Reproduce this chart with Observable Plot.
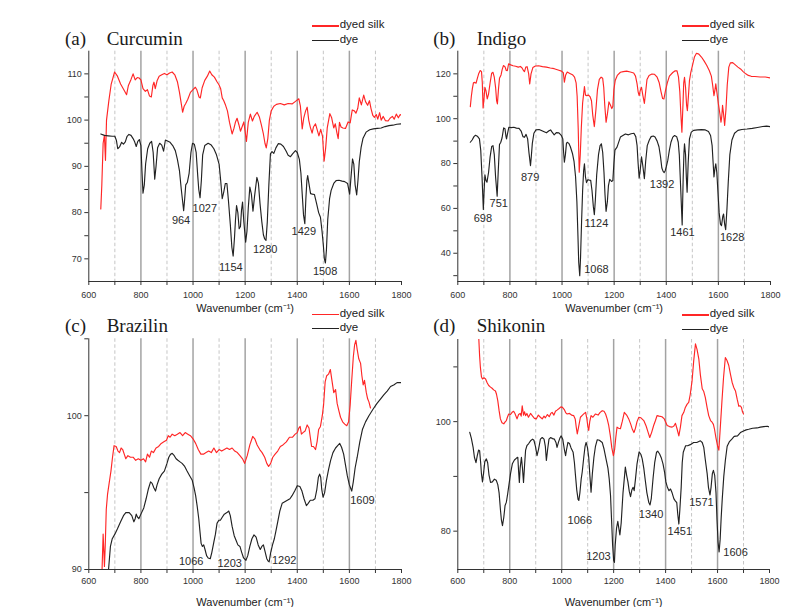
<!DOCTYPE html>
<html>
<head>
<meta charset="utf-8">
<script src="https://cdn.jsdelivr.net/npm/d3@7"></script>
<script src="https://cdn.jsdelivr.net/npm/@observablehq/plot@0.6"></script>
<style>
  body { margin: 0; background: #fff; }
  #fig { position: relative; width: 792px; height: 607px; overflow: hidden; background: #fff;
         font-family: "Liberation Sans", Arial, sans-serif; }
  .panel { position: absolute; }
  .title { position: absolute; font-family: "Liberation Serif", "Times New Roman", serif;
           font-size: 19px; line-height: 19px; color: #1a1a1a; white-space: nowrap; }
  .leg-line { position: absolute; width: 27px; height: 1.3px; }
  .leg-text { position: absolute; font-size: 11.5px; line-height: 11.5px; color: #1a1a1a; white-space: nowrap; }
</style>
</head>
<body>
<div id="fig"></div>
<script>
// ---- FTIR spectra: [wavenumber (cm-1), transmittance] ----
const curcuminSilk = [
  [646, 80.8], [650, 86], [655, 95], [660, 96.7], [664, 91.3], [668, 100], [677, 104.2], [686, 107.8],
  [699, 110.4], [710, 109.5], [722, 107.8], [735, 106.5], [745, 105.5], [752, 107.5], [762, 108.8],
  [770, 110], [778, 108.7], [786, 109.2], [793, 109.1], [800, 108.7], [808, 106.8], [817, 106.2],
  [825, 106.6], [833, 105.2], [840, 105], [846, 107.5], [850, 108.2], [855, 106.8], [862, 108.5],
  [870, 109.5], [880, 109.8], [890, 110.1], [900, 109.8], [910, 110.2], [920, 110.4], [930, 109.8],
  [940, 108.3], [948, 106], [955, 103.5], [960, 101.7], [966, 103], [972, 103.6], [980, 104.5],
  [990, 106], [1000, 106.6], [1009, 107.1], [1015, 106.5], [1023, 105], [1028, 104.8], [1035, 107],
  [1045, 108.6], [1055, 109.5], [1064, 110.6], [1072, 109.8], [1082, 109.3], [1092, 108.3],
  [1100, 107.6], [1106, 106.8], [1112, 104.8], [1118, 104.2], [1125, 103.2], [1132, 102], [1140, 99.5],
  [1150, 97], [1157, 98.2], [1163, 99.6], [1169, 100.4], [1176, 99], [1182, 97.6], [1188, 98.5],
  [1195, 99.6], [1200, 97.5], [1205, 95.4], [1212, 99.5], [1220, 101.3], [1228, 99.8], [1235, 100.8],
  [1246, 101.7], [1255, 100.6], [1262, 99], [1270, 97], [1276, 95], [1281, 94], [1287, 96],
  [1293, 100], [1300, 102], [1310, 103], [1320, 103.4], [1335, 103.6], [1350, 103.3], [1365, 103.6],
  [1380, 103.5], [1392, 104], [1406, 104.6], [1412, 103], [1419, 98.1], [1425, 100.5], [1432, 102],
  [1438, 102.8], [1444, 100], [1450, 98.5], [1457, 97.2], [1462, 98.5], [1470, 99.2], [1476, 98],
  [1483, 96.6], [1490, 98], [1497, 96.5], [1503, 91.1], [1509, 94], [1515, 98.3], [1525, 101.4],
  [1532, 100.5], [1540, 98.3], [1546, 99.2], [1552, 97.3], [1557, 96], [1562, 99.5], [1568, 98.5],
  [1575, 98.3], [1585, 98.2], [1595, 99.6], [1603, 99.4], [1611, 102.2], [1619, 102], [1625, 101.5],
  [1632, 102.5], [1638, 104.8], [1646, 103.3], [1655, 105.4], [1662, 104], [1670, 103.2],
  [1677, 104.2], [1683, 102.5], [1690, 101], [1696, 100.6], [1703, 101.2], [1709, 100.2],
  [1716, 101.6], [1722, 100], [1730, 100.8], [1738, 99.9], [1748, 99.8], [1756, 100.4], [1765, 100.8],
  [1772, 100.2], [1780, 101.3], [1788, 100.5], [1795, 101.2], [1800, 101]
];
const curcuminDye = [
  [646, 97], [660, 96.7], [675, 96.6], [690, 96.5], [700, 96.5], [706, 95.6], [711, 93.8], [718, 94.2],
  [726, 95.2], [733, 94.8], [740, 95.3], [747, 96.5], [754, 96.9], [762, 96.7], [770, 96], [776, 95.3],
  [782, 94.3], [788, 95.4], [794, 95.8], [800, 94.5], [804, 89], [808, 84.2], [813, 86], [818, 90.5],
  [826, 93.8], [834, 95], [841, 95.4], [847, 93], [853, 87.2], [858, 90], [864, 94], [872, 95],
  [880, 94.6], [887, 93.3], [894, 95.7], [902, 95.5], [912, 95.2], [922, 94.5], [932, 93.4],
  [940, 91.5], [948, 89], [955, 85], [964, 80.4], [968, 83], [972, 86], [978, 86.5], [985, 88.5],
  [992, 93], [998, 95], [1005, 94.8], [1012, 93], [1018, 88], [1022, 85], [1027, 83.2], [1032, 87],
  [1037, 92.5], [1045, 94.5], [1058, 95], [1070, 94.6], [1080, 93.8], [1090, 92.5], [1100, 90.5],
  [1106, 87], [1112, 83], [1118, 84.5], [1124, 86.3], [1130, 86.3], [1136, 82.5], [1143, 77.5],
  [1149, 72.5], [1154, 70.6], [1159, 74.5], [1163, 78.5], [1167, 81.5], [1172, 80], [1177, 76.5],
  [1182, 77], [1186, 80.5], [1190, 82.3], [1195, 78], [1202, 73.6], [1207, 76], [1212, 81],
  [1218, 85.5], [1224, 84], [1230, 80.3], [1236, 83.5], [1245, 87.6], [1251, 86.3], [1257, 82],
  [1264, 78], [1270, 75.2], [1275, 74.3], [1280, 74], [1285, 78], [1291, 86], [1297, 92.7],
  [1303, 93.2], [1310, 92.8], [1318, 94], [1327, 94.9], [1337, 94.8], [1347, 94.3], [1357, 93.3],
  [1365, 92.4], [1374, 92.1], [1382, 92.7], [1393, 93.4], [1400, 93], [1408, 91.5], [1414, 88.5],
  [1419, 84], [1424, 79.5], [1429, 77.6], [1433, 83], [1437, 87], [1440, 88], [1445, 86.2],
  [1451, 84.1], [1458, 84], [1466, 83.9], [1474, 82], [1482, 80], [1489, 79], [1495, 76],
  [1500, 73], [1504, 70], [1508, 69.1], [1512, 72], [1517, 78.5], [1524, 83], [1530, 84.8],
  [1540, 86.3], [1549, 86.9], [1560, 87], [1572, 86.8], [1582, 86.7], [1593, 86.3], [1601, 84],
  [1606, 87.5], [1612, 91.6], [1617, 90.5], [1622, 86], [1628, 83.8], [1633, 87], [1638, 91],
  [1645, 94.1], [1652, 96], [1664, 97.4], [1678, 97.9], [1692, 98.1], [1707, 98.2], [1722, 98.3],
  [1737, 98.6], [1752, 98.8], [1767, 98.9], [1782, 99.1], [1800, 99.2]
];

const indigoSilk = [
  [648, 105.4], [652, 110], [656, 113.5], [660, 116], [665, 116.2], [670, 115.8], [675, 118],
  [680, 120], [686, 121.5], [691, 121], [694, 116], [697, 104.8], [700, 108], [704, 114],
  [708, 112.5], [713, 108.8], [718, 111], [724, 116], [730, 120.3], [735, 120.7], [740, 118.5],
  [745, 114], [749, 108], [752, 106.6], [756, 113], [760, 118], [766, 119.5], [770, 121.8],
  [775, 123.7], [781, 123.2], [786, 121.5], [790, 121.4], [795, 124.5], [803, 124], [812, 123.6],
  [822, 123.4], [832, 123], [840, 123.3], [846, 122.7], [852, 121.5], [856, 121], [861, 123],
  [866, 123.2], [872, 120], [876, 115.5], [881, 120], [888, 122.8], [898, 123.5], [910, 123.6],
  [925, 123.2], [940, 123], [955, 122.6], [970, 122.3], [985, 121.7], [998, 121.2], [1005, 120.5],
  [1009, 116.3], [1014, 119.5], [1020, 120.8], [1030, 120.2], [1040, 119.6], [1048, 118.5],
  [1054, 116], [1058, 110], [1062, 96], [1066, 76.1], [1070, 84], [1074, 96], [1079, 107],
  [1086, 114.3], [1090, 110.5], [1095, 110.3], [1102, 110.5], [1108, 109.7], [1113, 108],
  [1118, 101.5], [1124, 96.5], [1130, 104], [1136, 113], [1143, 117.5], [1150, 118.5], [1156, 118],
  [1160, 114], [1164, 106], [1169, 98.4], [1174, 102], [1180, 107.5], [1186, 106], [1191, 104.5],
  [1195, 105.5], [1199, 113], [1204, 117], [1212, 119.3], [1224, 120.7], [1235, 121], [1248, 121.2],
  [1262, 120.8], [1275, 120.4], [1282, 119], [1288, 115.5], [1292, 112], [1296, 110.3],
  [1300, 112.5], [1305, 114], [1310, 110.5], [1316, 106.8], [1321, 112], [1326, 117.5], [1334, 119.3],
  [1345, 119.9], [1355, 119.8], [1365, 118.5], [1373, 116], [1380, 112], [1386, 109], [1391, 108.8],
  [1397, 112.5], [1404, 116], [1412, 119], [1425, 120.6], [1433, 121.3], [1441, 121.4], [1447, 118.5],
  [1452, 112], [1456, 102], [1460, 94], [1464, 106], [1467, 116], [1470, 118.5], [1474, 114],
  [1478, 106], [1481, 103.6], [1485, 110], [1489, 117], [1494, 120.5], [1502, 124.5], [1508, 127.5],
  [1516, 129.2], [1525, 128.8], [1535, 127.5], [1545, 125.8], [1555, 123.8], [1565, 121.5],
  [1573, 119], [1578, 115], [1583, 110.3], [1587, 113], [1590, 115.5], [1594, 112], [1600, 106.6],
  [1606, 102], [1610, 98.4], [1613, 101], [1616, 106], [1620, 102], [1624, 97], [1629, 104],
  [1634, 115], [1640, 123], [1646, 124.9], [1655, 125], [1665, 124], [1675, 123], [1685, 122.2],
  [1695, 121], [1705, 120], [1715, 119.3], [1726, 118.9], [1740, 118.8], [1760, 118.6],
  [1780, 118.6], [1800, 118.2]
];
const indigoDye = [
  [648, 89.5], [655, 90.5], [662, 92], [668, 92.6], [675, 92.2], [683, 91], [688, 86], [693, 74],
  [698, 59.5], [701, 68], [704, 75], [708, 72.5], [712, 71.7], [718, 76], [724, 83], [730, 87.6],
  [735, 88], [740, 84], [745, 74], [751, 65.4], [755, 76], [760, 88.5], [765, 89.5], [770, 91.5],
  [776, 95.9], [781, 95.5], [785, 92], [787, 91], [791, 93.5], [796, 96.2], [805, 96], [815, 96.2],
  [825, 95.8], [835, 95.7], [843, 94.5], [850, 92], [856, 91.7], [862, 93], [868, 91], [873, 85],
  [879, 79.1], [882, 83], [886, 89], [892, 93.5], [900, 95], [912, 95.2], [925, 94.5], [940, 93.7],
  [950, 94.6], [956, 95], [962, 94], [970, 92.8], [978, 93.8], [988, 93.7], [997, 92.6], [1003, 91],
  [1006, 85], [1009, 80.6], [1013, 84], [1017, 89], [1020, 89.5], [1026, 89], [1032, 87.5],
  [1040, 84.5], [1046, 81], [1052, 74], [1057, 63], [1061, 48], [1064, 36], [1068, 30], [1071, 38],
  [1075, 54], [1079, 68], [1083, 77], [1086, 79.9], [1090, 74], [1094, 71.5], [1099, 72.8],
  [1105, 72.6], [1110, 72.5], [1115, 68], [1120, 61], [1124, 57.2], [1128, 64], [1133, 75],
  [1140, 84], [1146, 88], [1151, 88.8], [1156, 85], [1161, 76], [1165, 66], [1169, 58.7],
  [1174, 63], [1178, 70], [1183, 73], [1190, 72], [1195, 72.4], [1199, 80], [1203, 86],
  [1211, 87.3], [1224, 91.8], [1243, 93.2], [1255, 92.8], [1265, 93.3], [1276, 93.5], [1283, 92],
  [1288, 88], [1292, 80], [1296, 73.5], [1300, 77], [1305, 83], [1310, 79], [1316, 73.2],
  [1321, 81], [1327, 88], [1335, 90.5], [1342, 92], [1350, 92.3], [1357, 91.8], [1365, 90],
  [1372, 87.5], [1378, 83], [1383, 78], [1388, 76.5], [1392, 76], [1396, 76.8], [1400, 78.5],
  [1406, 81.5], [1412, 86], [1418, 89.5], [1425, 91.8], [1432, 92.5], [1440, 92], [1446, 89.5],
  [1450, 84], [1455, 70], [1461, 52.6], [1465, 74], [1468, 85], [1470, 88.8], [1474, 84],
  [1477, 74], [1480, 67.2], [1484, 80], [1489, 91], [1496, 94], [1505, 94.8], [1520, 95],
  [1535, 95.1], [1550, 95], [1562, 94.3], [1570, 92.5], [1576, 88], [1580, 80], [1583, 74],
  [1587, 78], [1590, 79.9], [1594, 76], [1598, 68], [1603, 58], [1608, 53], [1612, 52.3],
  [1617, 56.5], [1620, 57.5], [1624, 53], [1628, 50.5], [1633, 60], [1638, 72], [1644, 84],
  [1652, 90.5], [1662, 93.5], [1675, 94.8], [1690, 95.2], [1710, 95.4], [1730, 95.7], [1750, 96.1],
  [1770, 96.5], [1785, 96.7], [1800, 96.4]
];

const brazilinSilk = [
  [650, 89.5], [655, 92.3], [657, 91.5], [660, 90.2], [663, 91.5], [667, 93.9], [672, 94.9],
  [678, 95.6], [685, 96.4], [691, 97.3], [697, 98.05], [705, 98], [712, 97.7], [718, 97.6],
  [724, 97.9], [730, 97.8], [736, 97.5], [742, 97.2], [750, 97.4], [760, 97.3], [770, 97.3],
  [780, 97.1], [790, 97.2], [800, 97.1], [810, 97.2], [818, 97], [825, 97.5], [833, 97.3],
  [840, 97.7], [848, 97.6], [858, 97.9], [868, 98], [878, 98.2], [888, 98.3], [898, 98.4],
  [905, 98.7], [912, 98.6], [920, 98.8], [930, 98.7], [940, 98.8], [950, 98.9], [960, 98.7],
  [970, 98.9], [980, 98.8], [990, 98.7], [1000, 98.5], [1010, 98.2], [1020, 97.8], [1030, 97.5],
  [1040, 97.5], [1050, 97.6], [1060, 97.7], [1070, 97.6], [1080, 97.9], [1090, 97.6], [1100, 97.8],
  [1110, 97.7], [1120, 97.8], [1130, 97.9], [1140, 97.8], [1150, 97.9], [1160, 97.7], [1170, 97.6],
  [1180, 97.4], [1190, 97.2], [1198, 96.9], [1208, 97.4], [1218, 98.1], [1229, 98.65], [1237, 98.5],
  [1246, 98.1], [1256, 97.8], [1265, 97.6], [1275, 97.3], [1283, 96.9], [1290, 96.7], [1298, 96.9],
  [1306, 97.3], [1315, 97.5], [1325, 97.7], [1335, 98], [1345, 98.1], [1358, 98.3], [1370, 98.6],
  [1382, 98.6], [1392, 98.8], [1400, 98.9], [1406, 99.2], [1411, 99.3], [1416, 98.8], [1422, 98.9],
  [1430, 99], [1438, 99.4], [1445, 99.2], [1450, 98.6], [1455, 98], [1462, 98], [1470, 97.8],
  [1476, 98.3], [1482, 99.1], [1489, 99.3], [1496, 100], [1501, 100.7], [1507, 102.2], [1513, 102.6],
  [1520, 102.7], [1527, 103], [1533, 102.3], [1540, 101.5], [1547, 101.7], [1553, 100.8],
  [1560, 100.3], [1566, 99.9], [1574, 99.6], [1582, 99.45], [1590, 99.35], [1597, 99.6],
  [1603, 100.7], [1609, 102.3], [1615, 103.8], [1620, 104.6], [1625, 104.9], [1630, 104.3],
  [1636, 103.7], [1643, 103.4], [1648, 102.6], [1653, 102], [1658, 102.3], [1665, 101.5],
  [1670, 101.1], [1675, 100.9], [1681, 100.5]
];
const brazilinDye = [
  [670, 89.5], [676, 90.05], [683, 91.5], [690, 92], [700, 92.3], [710, 92.65], [722, 93.1],
  [733, 93.5], [742, 93.7], [755, 93.7], [765, 93.5], [773, 93.1], [778, 93.3], [782, 93.6],
  [787, 93.4], [792, 93.3], [800, 93.6], [811, 94], [820, 94.6], [828, 95.2], [837, 95.7],
  [843, 95.6], [850, 95.3], [856, 95.1], [862, 95.5], [870, 95.9], [880, 96.2], [890, 96.4],
  [900, 96.9], [907, 97.3], [914, 97.5], [920, 97.55], [928, 97.4], [935, 97.2], [942, 97.1],
  [950, 97], [958, 96.9], [968, 96.7], [977, 96.4], [987, 96.1], [997, 95.8], [1004, 95.3],
  [1010, 94.8], [1016, 94.1], [1022, 93.3], [1027, 92.4], [1031, 91.7], [1036, 91.5], [1041, 91.6],
  [1046, 91.3], [1052, 90.9], [1058, 90.75], [1066, 90.7], [1072, 91.1], [1080, 91.8], [1086, 92.3],
  [1092, 93], [1099, 93.2], [1105, 93.2], [1112, 93.4], [1120, 93.6], [1130, 93.7], [1137, 93.8],
  [1143, 93.5], [1150, 92.8], [1158, 92.2], [1165, 91.9], [1172, 91.6], [1180, 91.5], [1187, 91.1],
  [1194, 90.75], [1203, 90.6], [1210, 90.9], [1218, 91.5], [1226, 92], [1234, 92.25], [1242, 92.1],
  [1250, 91.6], [1258, 91.3], [1264, 91.5], [1270, 91.6], [1276, 91.2], [1283, 90.7], [1288, 90.55],
  [1292, 90.5], [1298, 91.1], [1305, 91.6], [1312, 92], [1318, 92.5], [1325, 93.1], [1333, 93.8],
  [1342, 94.3], [1352, 94.4], [1362, 94.5], [1372, 94.6], [1380, 94.8], [1390, 95.1], [1400, 95.45],
  [1410, 95.4], [1418, 95.1], [1426, 94.6], [1435, 94.15], [1442, 94.3], [1450, 94.5], [1460, 94.5],
  [1468, 94.6], [1475, 95.2], [1481, 96], [1486, 96.2], [1490, 96], [1494, 95.2], [1499, 94.7],
  [1505, 95], [1512, 95.8], [1520, 96.5], [1528, 97.1], [1537, 97.6], [1547, 97.9], [1555, 98.05],
  [1563, 98.2], [1570, 97.95], [1578, 97.5], [1585, 96.8], [1592, 96.1], [1600, 95.5], [1609, 95.1],
  [1615, 95.7], [1622, 96.6], [1630, 97.3], [1640, 98.3], [1650, 99.1], [1662, 99.6], [1675, 100],
  [1690, 100.4], [1706, 100.8], [1720, 101.1], [1732, 101.35], [1745, 101.6], [1758, 101.9],
  [1770, 102], [1783, 102.15], [1800, 102.15]
];

const shikoninSilk = [
  [680, 116], [684, 112], [687, 109.9], [691, 108.2], [695, 107.8], [701, 108], [707, 107.8],
  [713, 107.1], [719, 106.6], [726, 106.3], [732, 106.1], [738, 105.8], [745, 105.6], [749, 105],
  [754, 103.8], [759, 102], [764, 100.5], [770, 99.8], [777, 99.6], [783, 100], [787, 100.2],
  [791, 100.8], [796, 101.4], [803, 101.3], [809, 101.7], [815, 101.9], [820, 101.5], [828, 100.5],
  [834, 101.3], [840, 101.5], [844, 101], [848, 102.9], [853, 101.2], [857, 101.8], [861, 101.1],
  [866, 101.5], [872, 100.8], [880, 101.5], [888, 101], [895, 100.6], [902, 100.5], [910, 101.2],
  [918, 100.8], [925, 100.5], [932, 101], [937, 100.7], [945, 101.3], [952, 100.9], [958, 101.5],
  [963, 101.7], [970, 101.2], [976, 101.9], [982, 102.1], [990, 102.4], [997, 102.7], [1003, 102.6],
  [1010, 102.2], [1016, 101.6], [1021, 101.4], [1030, 101.5], [1038, 101.2], [1046, 101.1],
  [1052, 100.5], [1056, 99], [1060, 97.75], [1065, 99], [1072, 100.8], [1080, 101.2], [1087, 101.5],
  [1092, 101.7], [1097, 100.5], [1101, 99], [1104, 98.4], [1108, 100], [1113, 101.1], [1120, 100.8],
  [1130, 101.4], [1140, 101.2], [1148, 101.7], [1156, 102], [1163, 101.9], [1169, 101.4],
  [1175, 100.5], [1181, 99.3], [1187, 97.5], [1193, 95.2], [1199, 93.8], [1204, 95], [1208, 97],
  [1213, 99], [1219, 98.8], [1226, 98.7], [1233, 100], [1241, 101.7], [1250, 101.2], [1258, 100.5],
  [1266, 99.5], [1272, 98.6], [1278, 98], [1284, 98.8], [1290, 100], [1297, 100.8], [1305, 100.7],
  [1316, 100.2], [1325, 99.2], [1333, 98], [1339, 97.1], [1346, 98], [1354, 99.3], [1361, 100.2],
  [1367, 101.1], [1375, 101], [1386, 100.9], [1395, 100.5], [1406, 99.3], [1415, 99.1], [1425, 99],
  [1432, 99.2], [1438, 99.7], [1444, 98.7], [1451, 97.4], [1457, 99], [1463, 101.1], [1470, 101.7],
  [1476, 102.6], [1483, 103.2], [1489, 103.5], [1495, 105], [1502, 107.5], [1508, 111],
  [1515, 114.2], [1521, 113.2], [1528, 111.4], [1534, 108.5], [1541, 106], [1547, 105.5],
  [1553, 104.4], [1560, 102.5], [1566, 101.1], [1573, 100.2], [1579, 99.9], [1584, 99.5],
  [1588, 98.7], [1594, 97], [1600, 95.6], [1605, 94.8], [1610, 98.5], [1617, 103.8], [1623, 108],
  [1630, 111.7], [1636, 111.2], [1643, 110.3], [1650, 108.6], [1656, 107.2], [1662, 106.3],
  [1669, 105.6], [1676, 104], [1682, 102.8], [1687, 102.9], [1692, 102.6], [1696, 101.8], [1700, 101.4]
];
const shikoninDye = [
  [646, 98.05], [652, 97], [659, 95.3], [664, 93.5], [670, 92.5], [675, 93.8], [680, 94.8],
  [684, 94.7], [688, 92.5], [691, 90.5], [695, 89], [699, 90.5], [704, 92.7], [710, 93.2],
  [715, 92.5], [720, 90.3], [726, 88.9], [733, 89], [741, 89.5], [748, 89.3], [754, 88.5],
  [759, 87], [764, 84], [768, 82], [772, 81], [777, 82.5], [782, 84.7], [787, 85.3], [792, 86.8],
  [797, 88.5], [803, 90.5], [810, 92.3], [818, 93], [825, 93.3], [831, 93.5], [834, 91], [837, 88.9],
  [840, 91.5], [845, 93.5], [849, 91.5], [853, 88.9], [857, 92], [861, 94.8], [866, 95.6],
  [873, 96], [880, 96.5], [888, 96.8], [893, 96.6], [899, 95.5], [905, 93.8], [911, 95], [918, 96.8],
  [925, 97.1], [932, 96.8], [937, 95.5], [941, 92.9], [946, 95], [951, 96.8], [957, 97.1],
  [965, 96.9], [972, 96.8], [978, 96.2], [982, 95.3], [988, 96.3], [993, 97], [998, 97.4],
  [1004, 96.8], [1010, 95], [1015, 93.8], [1019, 95], [1024, 96.2], [1030, 96], [1036, 95.2],
  [1044, 94.4], [1049, 92.5], [1053, 90.2], [1058, 87.5], [1063, 85.8], [1066, 85.6], [1070, 87],
  [1075, 89.5], [1079, 90.8], [1085, 93.5], [1090, 95.5], [1094, 96.2], [1099, 95.3], [1104, 93.5],
  [1108, 90.5], [1113, 87.1], [1118, 90.5], [1124, 93.5], [1130, 95.5], [1137, 96.7], [1145, 96.6],
  [1156, 96.2], [1163, 95], [1172, 92.9], [1178, 91.5], [1183, 89.5], [1188, 86.5], [1192, 82],
  [1196, 77.5], [1200, 74.7], [1203, 74.3], [1206, 77.5], [1211, 80.5], [1216, 81.8], [1220, 80.5],
  [1224, 79.3], [1229, 81.5], [1236, 87], [1245, 91.7], [1250, 90.2], [1255, 89], [1260, 87.3],
  [1265, 86.3], [1270, 87.5], [1275, 88], [1279, 87.4], [1284, 89.5], [1290, 92.3], [1298, 94.5],
  [1305, 94], [1310, 93.2], [1316, 91.5], [1322, 89.2], [1328, 87], [1335, 85.3], [1340, 84.8],
  [1345, 86], [1352, 89.8], [1358, 92.5], [1365, 94.4], [1370, 94.6], [1377, 94.1], [1384, 93.3],
  [1390, 92.3], [1396, 90.8], [1401, 89], [1407, 88], [1413, 87.4], [1419, 87.7], [1425, 87],
  [1432, 85.9], [1438, 85.5], [1443, 85.2], [1447, 83], [1451, 81.3], [1455, 84], [1460, 88],
  [1464, 92.5], [1468, 94.4], [1477, 95.6], [1485, 95.6], [1495, 95.8], [1508, 96.2], [1520, 96.2],
  [1534, 96.5], [1541, 96.2], [1547, 95.3], [1553, 93], [1560, 90.5], [1565, 88], [1571, 86.6],
  [1575, 88], [1580, 90.5], [1584, 91.1], [1589, 90.2], [1594, 87], [1598, 82], [1602, 78],
  [1606, 76.2], [1610, 78.5], [1614, 82.5], [1618, 85.8], [1624, 90], [1630, 92.9], [1637, 95.5],
  [1645, 96.3], [1655, 96.8], [1664, 97.3], [1677, 97.4], [1688, 98], [1700, 98.3], [1710, 98.5],
  [1720, 98.6], [1735, 98.8], [1752, 98.85], [1765, 99], [1778, 99.1], [1792, 99.15], [1800, 99]
];

// ---- labelled absorption bands (cm-1) on each dye spectrum ----
const curcuminPeaks = [964, 1027, 1154, 1280, 1429, 1508];
const indigoPeaks = [698, 751, 879, 1068, 1124, 1392, 1461, 1628];
const brazilinPeaks = [1066, 1203, 1292, 1609];
const shikoninPeaks = [1066, 1203, 1340, 1451, 1571, 1606];

// ---- shared axis / text ----
const panelTags = ["(a)", "(b)", "(c)", "(d)"];
const dyeNames = ["Curcumin", "Indigo", "Brazilin", "Shikonin"];
const seriesNames = ["dyed silk", "dye"];
const xTickLabels = [600, 800, 1000, 1200, 1400, 1600, 1800];
const xMinorTicks = [700, 900, 1100, 1300, 1500, 1700];
const solidGrid = [800, 1000, 1200, 1400, 1600];
const dashedGrid = [700, 900, 1100, 1300, 1500, 1700];
const xTitle = "Wavenumber (cm⁻¹)";
const yTicksA = [70, 80, 90, 100, 110], yMinorA = [75, 85, 95, 105];
const yTicksB = [40, 60, 80, 100, 120], yMinorB = [30, 50, 70, 90, 110];
const yTicksC = [90, 100], yMinorC = [95, 105];
const yTicksD = [80, 100], yMinorD = [90, 110];

// ---- layout and styling ----
const silkColor = "#ff2626";
const dyeColor = "#222222";
const seriesColors = [silkColor, dyeColor];

const panels = [
  { silk: curcuminSilk, dye: curcuminDye, peaks: curcuminPeaks, yDomain: [65.1, 114.9], yTicks: yTicksA, yMinor: yMinorA,
    box: { left: 0, top: 0, width: 420, height: 316 }, margin: [50.7, 19, 35, 88.3], tickPad: 6, titleDy: 30,
    title: { tagX: 65, nameX: 106.7, baseline: 45 }, legend: { x: 311.7, ys: [26, 40.7] },
    offsets: { 964: [-2.6, 9.3], 1027: [4.7, 11.1], 1154: [-2.3, 11.1], 1280: [-0.8, 9.3], 1429: [-1, 8], 1508: [-0.3, 8.3] } },
  { silk: indigoSilk, dye: indigoDye, peaks: indigoPeaks, yDomain: [27.4, 130.1], yTicks: yTicksB, yMinor: yMinorB,
    box: { left: 420, top: 0, width: 372, height: 316 }, margin: [50.7, 22, 35, 37.3], tickPad: 6, titleDy: 30,
    title: { tagX: 433.3, nameX: 476.7, baseline: 45 }, legend: { x: 681.7, ys: [26, 40.7] },
    offsets: { 698: [-0.5, 8.7], 751: [1.6, 7.6], 879: [-0.4, 12.3], 1068: [16.7, -5.8], 1124: [2.1, 8.3],
               1392: [-2.1, 12.3], 1461: [0.3, 7.2], 1628: [6.5, 7.6] } },
  { silk: brazilinSilk, dye: brazilinDye, peaks: brazilinPeaks, yDomain: [90, 105], yTicks: yTicksC, yMinor: yMinorC,
    box: { left: 0, top: 316, width: 420, height: 291 }, margin: [22.3, 19, 38, 88.3], tickPad: 4, titleDy: 36,
    title: { tagX: 65, nameX: 106.7, baseline: 332.3 }, legend: { x: 311.7, ys: [314.3, 328.3] },
    offsets: { 1066: [-19, 3.1], 1203: [-16.2, 3.1], 1292: [15.1, -1.5], 1609: [10.7, 9.2] } },
  { silk: shikoninSilk, dye: shikoninDye, peaks: shikoninPeaks, yDomain: [73, 115], yTicks: yTicksD, yMinor: yMinorD,
    box: { left: 420, top: 316, width: 372, height: 291 }, margin: [23, 23, 38, 37.3], tickPad: 4, titleDy: 36,
    title: { tagX: 433.3, nameX: 476.7, baseline: 332.3 }, legend: { x: 681.7, ys: [315, 329.3] },
    offsets: { 1066: [1, 20.3], 1203: [-16, -6], 1340: [1, 9.3], 1451: [1, 7.7], 1571: [-8.6, 7.7], 1606: [16.4, 0.5] } }
];

const fig = document.getElementById("fig");
const wn = d => d[0];
const tr = d => d[1];
const fmt = d => String(d);
const valueAt = (series, w) => { const p = series.find(d => d[0] === w); return p ? p[1] : NaN; };

panels.forEach((p, i) => {
  const [mt, mr, mb, ml] = p.margin;
  const axisStyle = { stroke: "#333", strokeWidth: 1 };

  const peakMarks = p.peaks.map(w => Plot.text([w], {
    x: d => d, y: d => valueAt(p.dye, d), text: fmt,
    dx: p.offsets[w][0], dy: p.offsets[w][1],
    fontSize: 11, fill: "#2b2b2b"
  }));

  const chart = Plot.plot({
    width: p.box.width, height: p.box.height,
    marginTop: mt, marginRight: mr, marginBottom: mb, marginLeft: ml,
    style: { background: "transparent", overflow: "visible", fontFamily: "'Liberation Sans', Arial, sans-serif", fontSize: "9px", color: "#333" },
    x: { domain: [600, 1800] },
    y: { domain: p.yDomain },
    marks: [
      Plot.ruleX(dashedGrid, { x: d => d, stroke: "#c6c6c6", strokeWidth: 1, strokeDasharray: "3.5,2.5" }),
      Plot.ruleX(solidGrid, { x: d => d, stroke: "#a3a3a3", strokeWidth: 1.5 }),
      Plot.line(p.silk, { x: wn, y: tr, stroke: silkColor, strokeWidth: 1.15, clip: true }),
      Plot.line(p.dye, { x: wn, y: tr, stroke: dyeColor, strokeWidth: 1.15, clip: true }),
      Plot.ruleX([600], { x: d => d, ...axisStyle }),
      Plot.ruleY([p.yDomain[0]], { y: d => d, ...axisStyle }),
      Plot.axisX(xTickLabels, { anchor: "bottom", tickSize: 4, tickPadding: p.tickPad, tickFormat: fmt, label: null, fontSize: 9, fill: "#333", stroke: "#333" }),
      Plot.axisX(xMinorTicks, { anchor: "bottom", tickSize: 4, fill: "none", label: null, stroke: "#333" }),
      Plot.axisY(p.yTicks, { anchor: "left", tickSize: 4, tickPadding: 3, tickFormat: fmt, label: null, fontSize: 9, fill: "#333", stroke: "#333" }),
      Plot.axisY(p.yMinor, { anchor: "left", tickSize: 4, fill: "none", label: null, stroke: "#333" }),
      Plot.text([xTitle], { text: d => d, frameAnchor: "bottom", dy: p.titleDy, lineAnchor: "bottom", fontSize: 11, fill: "#222" }),
      ...peakMarks
    ]
  });
  chart.classList.add("panel");
  chart.style.left = p.box.left + "px";
  chart.style.top = p.box.top + "px";
  fig.appendChild(chart);

  // panel heading: tag and dye name
  const titleTop = p.title.baseline - 0.8375 * 19;
  [[panelTags[i], p.title.tagX], [dyeNames[i], p.title.nameX]].forEach(([txt, x]) => {
    const el = document.createElement("div");
    el.className = "title";
    el.textContent = txt;
    el.style.left = x + "px";
    el.style.top = titleTop + "px";
    fig.appendChild(el);
  });

  // legend: dyed silk / dye
  seriesNames.forEach((name, k) => {
    const y = p.legend.ys[k];
    const line = document.createElement("div");
    line.className = "leg-line";
    line.style.left = p.legend.x + "px";
    line.style.top = (y - 0.65) + "px";
    line.style.background = seriesColors[k];
    fig.appendChild(line);
    const t = document.createElement("div");
    t.className = "leg-text";
    t.textContent = name;
    t.style.left = (p.legend.x + 28) + "px";
    t.style.top = (y + 3 - 0.8465 * 11.5) + "px";
    fig.appendChild(t);
  });
});
</script>
</body>
</html>
